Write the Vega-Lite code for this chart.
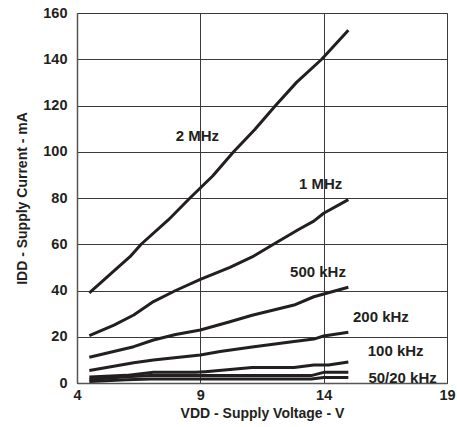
{
  "$schema": "https://vega.github.io/schema/vega-lite/v6.json",
  "width": 370,
  "height": 370,
  "autosize": "none",
  "padding": {"left": 77, "top": 13, "right": 10, "bottom": 44},
  "background": "white",
  "config": {
    "font": "Liberation Sans",
    "view": {"stroke": "#777", "strokeWidth": 1},
    "axis": {
      "domainColor": "#555",
      "domainWidth": 1.5,
      "gridColor": "#3a3a3a",
      "gridWidth": 1,
      "gridOpacity": 1,
      "ticks": false,
      "labelFont": "Liberation Sans",
      "labelFontWeight": "bold",
      "labelFontSize": 14.5,
      "labelColor": "#231f20",
      "titleFont": "Liberation Sans",
      "titleFontWeight": "bold",
      "titleFontSize": 14,
      "titleColor": "#231f20"
    }
  },
  "datasets": {
    "curves": [
      {"s": "2 MHz", "v": 4.5, "i": 39},
      {"s": "2 MHz", "v": 5.5, "i": 48.5},
      {"s": "2 MHz", "v": 6.15, "i": 54.6},
      {"s": "2 MHz", "v": 6.6, "i": 60},
      {"s": "2 MHz", "v": 7.7, "i": 70.5},
      {"s": "2 MHz", "v": 8.58, "i": 80},
      {"s": "2 MHz", "v": 9.5, "i": 89.5},
      {"s": "2 MHz", "v": 10.35, "i": 100},
      {"s": "2 MHz", "v": 11.2, "i": 109.5},
      {"s": "2 MHz", "v": 12.05, "i": 120},
      {"s": "2 MHz", "v": 12.9, "i": 130},
      {"s": "2 MHz", "v": 13.92, "i": 140},
      {"s": "2 MHz", "v": 15, "i": 152.5},
      {"s": "1 MHz", "v": 4.5, "i": 20.5},
      {"s": "1 MHz", "v": 5.5, "i": 25},
      {"s": "1 MHz", "v": 6.3, "i": 29.4},
      {"s": "1 MHz", "v": 7.1, "i": 35.2},
      {"s": "1 MHz", "v": 8, "i": 40},
      {"s": "1 MHz", "v": 9, "i": 44.8},
      {"s": "1 MHz", "v": 10.2, "i": 50},
      {"s": "1 MHz", "v": 11.1, "i": 54.5},
      {"s": "1 MHz", "v": 12, "i": 60.2},
      {"s": "1 MHz", "v": 13, "i": 66.5},
      {"s": "1 MHz", "v": 13.6, "i": 70},
      {"s": "1 MHz", "v": 14, "i": 73.4},
      {"s": "1 MHz", "v": 15, "i": 79.3},
      {"s": "500 kHz", "v": 4.5, "i": 11.1},
      {"s": "500 kHz", "v": 6.3, "i": 15.7},
      {"s": "500 kHz", "v": 7.1, "i": 18.6},
      {"s": "500 kHz", "v": 8, "i": 21},
      {"s": "500 kHz", "v": 9, "i": 22.9},
      {"s": "500 kHz", "v": 10.2, "i": 26.5},
      {"s": "500 kHz", "v": 11.1, "i": 29.3},
      {"s": "500 kHz", "v": 12.8, "i": 33.7},
      {"s": "500 kHz", "v": 13.6, "i": 37.3},
      {"s": "500 kHz", "v": 15, "i": 41.4},
      {"s": "200 kHz", "v": 4.5, "i": 5.4},
      {"s": "200 kHz", "v": 6.3, "i": 8.8},
      {"s": "200 kHz", "v": 7.1, "i": 9.9},
      {"s": "200 kHz", "v": 9, "i": 12.1},
      {"s": "200 kHz", "v": 9.8, "i": 13.6},
      {"s": "200 kHz", "v": 11.1, "i": 15.6},
      {"s": "200 kHz", "v": 12.8, "i": 17.9},
      {"s": "200 kHz", "v": 13.6, "i": 19},
      {"s": "200 kHz", "v": 14, "i": 20.3},
      {"s": "200 kHz", "v": 15, "i": 21.9},
      {"s": "100 kHz", "v": 4.5, "i": 2.6},
      {"s": "100 kHz", "v": 6, "i": 3.3},
      {"s": "100 kHz", "v": 7.1, "i": 4.6},
      {"s": "100 kHz", "v": 8.8, "i": 4.6},
      {"s": "100 kHz", "v": 9.2, "i": 4.9},
      {"s": "100 kHz", "v": 11.1, "i": 6.7},
      {"s": "100 kHz", "v": 12.8, "i": 6.7},
      {"s": "100 kHz", "v": 13.6, "i": 7.8},
      {"s": "100 kHz", "v": 14.2, "i": 7.8},
      {"s": "100 kHz", "v": 15, "i": 9.1},
      {"s": "50 kHz", "v": 4.5, "i": 1.5},
      {"s": "50 kHz", "v": 6, "i": 2.7},
      {"s": "50 kHz", "v": 7, "i": 3.2},
      {"s": "50 kHz", "v": 13.5, "i": 3.2},
      {"s": "50 kHz", "v": 14, "i": 4.6},
      {"s": "50 kHz", "v": 15, "i": 4.6},
      {"s": "20 kHz", "v": 4.5, "i": 0.6},
      {"s": "20 kHz", "v": 6, "i": 1.4},
      {"s": "20 kHz", "v": 7, "i": 1.7},
      {"s": "20 kHz", "v": 13.5, "i": 1.7},
      {"s": "20 kHz", "v": 14, "i": 2.4},
      {"s": "20 kHz", "v": 15, "i": 2.4}
    ],
    "labels": [
      {"t": "2 MHz", "v": 8.88, "i": 106.8},
      {"t": "1 MHz", "v": 13.88, "i": 85.9},
      {"t": "500 kHz", "v": 13.77, "i": 48.1},
      {"t": "200 kHz", "v": 16.32, "i": 28.4},
      {"t": "100 kHz", "v": 16.92, "i": 14.0},
      {"t": "50/20 kHz", "v": 17.2, "i": 2.0}
    ]
  },
  "layer": [
    {
      "data": {"name": "curves"},
      "mark": {"type": "line", "color": "#231f20", "strokeWidth": 3, "strokeJoin": "round", "strokeCap": "butt"},
      "encoding": {
        "x": {
          "field": "v",
          "type": "quantitative",
          "scale": {"domain": [4, 19], "nice": false, "zero": false},
          "axis": {"values": [4, 9, 14, 19], "title": "VDD - Supply Voltage - V", "labelPadding": 5, "titlePadding": 5, "labelFlush": false}
        },
        "y": {
          "field": "i",
          "type": "quantitative",
          "scale": {"domain": [0, 160], "nice": false},
          "axis": {"values": [0, 20, 40, 60, 80, 100, 120, 140, 160], "title": "IDD - Supply Current - mA", "labelPadding": 10, "titlePadding": 13}
        },
        "detail": {"field": "s", "type": "nominal"},
        "order": {"field": "v", "type": "quantitative"}
      }
    },
    {
      "data": {"name": "labels"},
      "mark": {"type": "text", "font": "Liberation Sans", "fontWeight": "bold", "fontSize": 15, "color": "#231f20", "align": "center", "baseline": "middle"},
      "encoding": {
        "x": {"field": "v", "type": "quantitative"},
        "y": {"field": "i", "type": "quantitative"},
        "text": {"field": "t", "type": "nominal"}
      }
    }
  ]
}
